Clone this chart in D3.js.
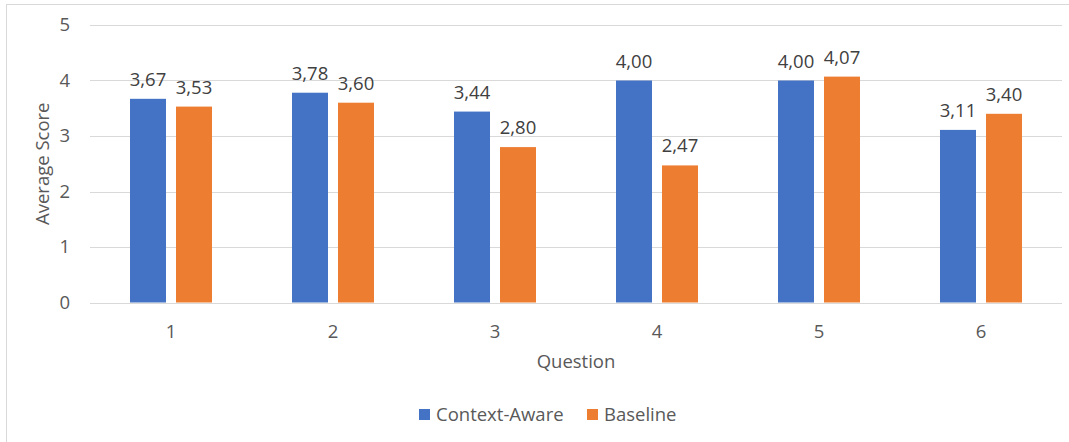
<!DOCTYPE html>
<html>
<head>
<meta charset="utf-8">
<script src="https://cdn.jsdelivr.net/npm/d3@7"></script>
<style>
  body { margin: 0; background: #fff; }
  text { font-family: 'Open Sans', sans-serif; fill: #595959; }
</style>
</head>
<body>
<svg width="1069" height="442"></svg>
<script>
var svg = d3.select('svg');

// chart data
var questions = ['1', '2', '3', '4', '5', '6'];
var seriesNames = ['Context-Aware', 'Baseline'];
var contextAware = [3.67, 3.78, 3.44, 4.00, 4.00, 3.11];
var baseline = [3.53, 3.60, 2.80, 2.47, 4.07, 3.40];
var yTicks = [0, 1, 2, 3, 4, 5];
var colours = ['#4472C4', '#ED7D31'];

// plot area (avoid names like "top" that clash with window globals)
var plotLeft = 90, plotRight = 1062, plotTop = 25, plotBottom = 302.5;
var fontSize = '18.5px';

// outer frame
svg.append('rect')
    .attr('x', 6.5).attr('y', 4.5)
    .attr('width', 1080).attr('height', 460)
    .attr('fill', 'none')
    .attr('stroke', '#d9d9d9');

var x = d3.scaleBand().domain(questions).range([plotLeft, plotRight]);
var y = d3.scaleLinear().domain([0, 5]).range([plotBottom, plotTop]);

// gridlines
svg.selectAll('.grid')
    .data(yTicks)
    .enter()
    .append('line')
    .attr('class', 'grid')
    .attr('x1', plotLeft).attr('x2', plotRight)
    .attr('y1', function(d) { return Math.round(y(d)) + 0.5; })
    .attr('y2', function(d) { return Math.round(y(d)) + 0.5; })
    .attr('stroke', '#d9d9d9')
    .attr('stroke-width', 1);

// y tick labels
svg.selectAll('.ytick')
    .data(yTicks)
    .enter()
    .append('text')
    .attr('class', 'ytick')
    .attr('x', 70)
    .attr('y', function(d) { return y(d); })
    .attr('dy', '0.35em')
    .style('text-anchor', 'end')
    .style('font-size', fontSize)
    .text(function(d) { return d; });

// x tick labels
svg.selectAll('.xtick')
    .data(questions)
    .enter()
    .append('text')
    .attr('class', 'xtick')
    .attr('x', function(d) { return x(d) + x.bandwidth() / 2; })
    .attr('y', 338)
    .style('text-anchor', 'middle')
    .style('font-size', fontSize)
    .text(function(d) { return d; });

var barWidth = 36, offset = 23;
var series = [contextAware, baseline];
var fmt = function(v) { return v.toFixed(2).replace('.', ','); };

series.forEach(function(values, si) {
    var dx = si == 0 ? -offset : offset;
    var g = svg.append('g').attr('class', 'series-' + si);
    g.selectAll('rect')
        .data(values)
        .enter()
        .append('rect')
        .attr('x', function(d, i) { return x(questions[i]) + x.bandwidth() / 2 + dx - barWidth / 2; })
        .attr('y', function(d) { return y(d); })
        .attr('width', barWidth)
        .attr('height', function(d) { return y(0) - y(d); })
        .attr('fill', colours[si]);
    g.selectAll('text')
        .data(values)
        .enter()
        .append('text')
        .attr('x', function(d, i) { return x(questions[i]) + x.bandwidth() / 2 + dx; })
        .attr('y', function(d) { return y(d) - 13; })
        .style('text-anchor', 'middle')
        .style('font-size', fontSize)
        .style('fill', '#404040')
        .text(fmt);
});

// axis titles
svg.append('text')
    .attr('x', 576).attr('y', 368)
    .style('text-anchor', 'middle')
    .style('font-size', fontSize)
    .text('Question');

svg.append('text')
    .attr('transform', 'translate(' + [49, (plotTop + plotBottom) / 2] + ') rotate(-90)')
    .style('text-anchor', 'middle')
    .style('font-size', fontSize)
    .text('Average Score');

// legend
var legendX = [419, 587];
seriesNames.forEach(function(name, i) {
    svg.append('rect')
        .attr('x', legendX[i]).attr('y', 409)
        .attr('width', 11).attr('height', 11)
        .attr('fill', colours[i]);
    svg.append('text')
        .attr('x', legendX[i] + 17).attr('y', 421)
        .style('font-size', fontSize)
        .text(name);
});
</script>
</body>
</html>
